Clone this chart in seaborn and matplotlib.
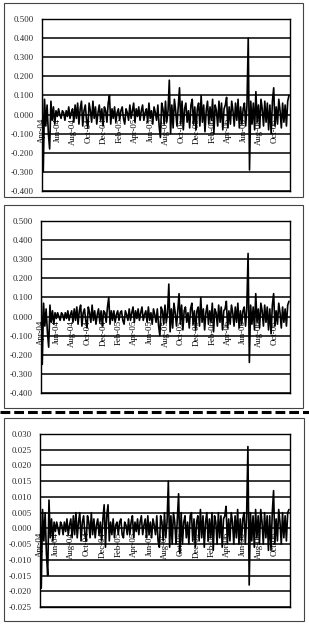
import matplotlib
matplotlib.use('Agg')
import matplotlib.pyplot as plt
import matplotlib.dates as mdates
from matplotlib.patches import Rectangle
from matplotlib.lines import Line2D
import numpy as np
import pandas as pd
import seaborn as sns

# ---------------- data (every 5 days) ----------------
start_date = '2004-04-01'
step = '5D'

series_top = [
    0.20, -0.30, 0.08, -0.06, 0.05, -0.10, -0.18, 0.07, -0.03, 0.04,
    -0.05, 0.02, -0.01, 0.03, 0.00, -0.02, 0.02, 0.01, -0.03, 0.02,
    -0.01, 0.04, -0.02, 0.01, 0.03, -0.04, 0.05, -0.02, 0.06, -0.05,
    0.03, 0.07, -0.06, 0.02, 0.05, -0.03, -0.07, 0.06, 0.02, -0.04,
    0.07, -0.02, 0.04, -0.05, 0.01, 0.05, -0.03, 0.03, -0.06, 0.04,
    0.02, -0.04, 0.06, 0.10, -0.05, 0.03, -0.02, 0.04, -0.04, 0.01,
    0.03, -0.03, 0.02, 0.04, -0.02, -0.05, 0.03, 0.01, -0.03, 0.05,
    -0.02, 0.02, 0.06, -0.04, 0.03, -0.01, 0.04, -0.03, 0.02, 0.05,
    -0.03, 0.01, 0.03, -0.04, 0.06, -0.02, 0.02, -0.05, 0.04, 0.01,
    -0.03, 0.05, -0.06, -0.12, 0.06, 0.03, -0.05, 0.07, -0.04, 0.02,
    0.18, -0.10, 0.05, -0.07, 0.08, 0.02, -0.06, 0.04, 0.14, -0.05,
    0.07, -0.08, 0.03, 0.06, -0.04, 0.02, -0.07, 0.05, 0.08, -0.05,
    0.04, -0.08, 0.03, 0.06, -0.06, 0.10, -0.04, 0.05, -0.09, 0.02,
    0.07, -0.05, 0.04, -0.03, 0.08, -0.10, 0.05, 0.02, -0.06, 0.07,
    -0.04, 0.06, -0.08, 0.03, 0.05, 0.09, -0.07, 0.04, -0.05, 0.07,
    0.02, -0.06, 0.06, -0.03, 0.08, -0.07, 0.04, -0.05, 0.03, 0.06,
    -0.06, 0.05, 0.40, -0.29, 0.07, -0.05, 0.06, -0.08, 0.12, -0.04,
    0.05, -0.07, 0.08, 0.03, -0.06, 0.07, -0.04, 0.06, -0.08, 0.05,
    -0.10, 0.07, 0.14, -0.06, 0.04, -0.05, 0.08, 0.02, -0.07, 0.06,
    -0.04, 0.05, -0.06, 0.07, 0.10,
]

series_mid = [
    0.17, -0.25, 0.07, -0.05, 0.04, -0.08, -0.16, 0.06, -0.03, 0.03,
    -0.04, 0.02, -0.01, 0.02, 0.00, -0.02, 0.02, 0.01, -0.02, 0.02,
    -0.01, 0.03, -0.02, 0.01, 0.03, -0.03, 0.04, -0.02, 0.05, -0.04,
    0.03, 0.06, -0.05, 0.02, 0.04, -0.02, -0.06, 0.05, 0.02, -0.03,
    0.06, -0.02, 0.03, -0.04, 0.01, 0.04, -0.03, 0.03, -0.05, 0.03,
    0.02, -0.03, 0.05, 0.10, -0.04, 0.03, -0.02, 0.03, -0.03, 0.01,
    0.03, -0.02, 0.02, 0.03, -0.02, -0.04, 0.03, 0.01, -0.02, 0.04,
    -0.02, 0.02, 0.05, -0.03, 0.03, -0.01, 0.04, -0.02, 0.02, 0.05,
    -0.02, 0.01, 0.03, -0.03, 0.05, -0.02, 0.02, -0.04, 0.04, 0.01,
    -0.03, 0.04, -0.05, -0.10, 0.05, 0.03, -0.04, 0.06, -0.03, 0.02,
    0.17, -0.08, 0.04, -0.06, 0.07, 0.02, -0.05, 0.03, 0.12, -0.04,
    0.06, -0.07, 0.03, 0.05, -0.03, 0.02, -0.06, 0.04, 0.07, -0.04,
    0.03, -0.07, 0.03, 0.05, -0.05, 0.10, -0.03, 0.04, -0.07, 0.02,
    0.06, -0.04, 0.03, -0.03, 0.07, -0.08, 0.04, 0.02, -0.05, 0.06,
    -0.03, 0.05, -0.07, 0.03, 0.04, 0.08, -0.06, 0.03, -0.04, 0.06,
    0.02, -0.05, 0.05, -0.03, 0.07, -0.06, 0.03, -0.04, 0.03, 0.05,
    -0.05, 0.04, 0.33, -0.24, 0.06, -0.04, 0.05, -0.07, 0.12, -0.03,
    0.04, -0.06, 0.07, 0.03, -0.05, 0.06, -0.03, 0.05, -0.07, 0.04,
    -0.09, 0.06, 0.12, -0.05, 0.03, -0.04, 0.07, 0.02, -0.06, 0.05,
    -0.03, 0.04, -0.05, 0.06, 0.08,
]

series_bot = [
    0.013, -0.019, 0.006, -0.004, 0.005, -0.008, -0.015, 0.009, -0.003, 0.003,
    -0.004, 0.002, -0.001, 0.002, 0.000, -0.002, 0.002, 0.001, -0.002, 0.002,
    -0.001, 0.003, -0.002, 0.001, 0.003, -0.003, 0.004, -0.002, 0.005, -0.003,
    0.002, 0.005, -0.004, 0.002, 0.004, -0.002, -0.004, 0.004, 0.002, -0.003,
    0.005, -0.002, 0.003, -0.003, 0.001, 0.003, -0.002, 0.002, -0.004, 0.003,
    0.0075, -0.006, 0.004, 0.0075, -0.004, 0.002, -0.002, 0.003, -0.003, 0.001,
    0.002, -0.002, 0.002, 0.003, -0.002, -0.003, 0.002, 0.001, -0.002, 0.003,
    -0.002, 0.002, 0.004, -0.003, 0.002, -0.001, 0.003, -0.002, 0.002, 0.004,
    -0.002, 0.001, 0.003, -0.003, 0.004, -0.002, 0.002, -0.003, 0.003, 0.001,
    -0.002, 0.004, -0.004, -0.006, 0.004, 0.002, -0.004, 0.005, -0.003, 0.002,
    0.015, -0.006, 0.004, -0.005, 0.005, 0.002, -0.005, 0.003, 0.011, -0.008,
    0.005, -0.005, 0.002, 0.004, -0.003, 0.002, -0.005, 0.004, 0.005, -0.004,
    0.003, -0.006, 0.002, 0.004, -0.004, 0.006, -0.003, 0.004, -0.006, 0.002,
    0.005, -0.004, 0.003, -0.003, 0.005, -0.007, 0.004, 0.002, -0.005, 0.005,
    -0.003, 0.004, -0.006, 0.003, 0.004, 0.007, -0.005, 0.003, -0.004, 0.005,
    0.002, -0.005, 0.004, -0.003, 0.006, -0.005, 0.003, -0.004, 0.003, 0.005,
    -0.005, 0.004, 0.026, -0.018, 0.005, -0.004, 0.004, -0.006, 0.006, -0.003,
    0.004, -0.005, 0.006, 0.002, -0.005, 0.005, -0.003, 0.004, -0.007, 0.004,
    -0.007, 0.005, 0.012, -0.005, 0.003, -0.004, 0.006, 0.002, -0.005, 0.005,
    -0.003, 0.004, -0.004, 0.005, 0.006,
]

month_labels = ['Apr-04', 'Jun-04', 'Aug-04', 'Oct-04', 'Dec-04', 'Feb-05',
                'Apr-05', 'Jun-05', 'Aug-05', 'Oct-05', 'Dec-05', 'Feb-06',
                'Apr-06', 'Jun-06', 'Aug-06', 'Oct-06']

yticks_big = [-0.4, -0.3, -0.2, -0.1, 0.0, 0.1, 0.2, 0.3, 0.4, 0.5]
yticks_small = [-0.025, -0.020, -0.015, -0.010, -0.005, 0.0, 0.005, 0.010,
                0.015, 0.020, 0.025, 0.030]

# ---------------- styling ----------------
sns.set_style('white')
plt.rcParams['font.family'] = ['Liberation Serif', 'DejaVu Serif']

W, H = 309, 627
fig = plt.figure(figsize=(W / 100, H / 100), dpi=100)
fig.patch.set_facecolor('white')


def fx(px):
    return px / W


def fy(py):
    return 1 - py / H


label_dates = pd.date_range(start_date, periods=len(month_labels), freq='2MS')
xlim = (mdates.date2num(pd.Timestamp('2004-04-01')),
        mdates.date2num(pd.Timestamp('2006-12-01')))


def panel(rect_px, values, yticks):
    x0, y0, x1, y1 = rect_px
    ax = fig.add_axes([fx(x0), fy(y1), fx(x1 - x0), (y1 - y0) / H])
    dates = pd.date_range(start_date, periods=len(values), freq=step)
    df = pd.DataFrame({'date': dates, 'value': values})
    sns.lineplot(data=df, x='date', y='value', ax=ax, color='black',
                 lw=1.2, estimator=None)
    ax.set_xlim(*xlim)
    ax.set_ylim(yticks[0], yticks[-1])
    ax.set_yticks(yticks)
    ax.set_yticklabels([f'{v:.3f}' for v in yticks], fontsize=6.3)
    ax.tick_params(axis='y', length=0, pad=6)
    ax.set_xticks([])
    ax.set_xlabel('')
    ax.set_ylabel('')
    for t in yticks:
        ax.axhline(t, color='black', lw=1.1, zorder=0)
    for s in ax.spines.values():
        s.set_color('black')
        s.set_linewidth(1.0)
    for d, lab in zip(label_dates, month_labels):
        ax.annotate(lab, xy=(mdates.date2num(d), 0), xytext=(0, -2.5),
                    textcoords='offset points', rotation=90, ha='center',
                    va='top', fontsize=6.3, color='black', zorder=5)
    return ax


panel((42, 19, 290, 191), series_top, yticks_big)
panel((41, 221, 290, 393), series_mid, yticks_big)
panel((40, 434, 290, 607), series_bot, yticks_small)

# outer panel boxes
for (x0, y0, x1, y1) in [(4, 3, 303, 197), (4, 205, 303, 408), (4, 418, 304, 621)]:
    fig.add_artist(Rectangle((fx(x0), fy(y1)), fx(x1 - x0), (y1 - y0) / H,
                             transform=fig.transFigure, fill=False,
                             ec='#444444', lw=0.8))

# dashed separator
fig.add_artist(Line2D([0, 1], [fy(412), fy(412)], transform=fig.transFigure,
                      color='black', lw=2.2, dashes=(3.2, 1.3)))

fig.savefig('out.png', dpi=100)
